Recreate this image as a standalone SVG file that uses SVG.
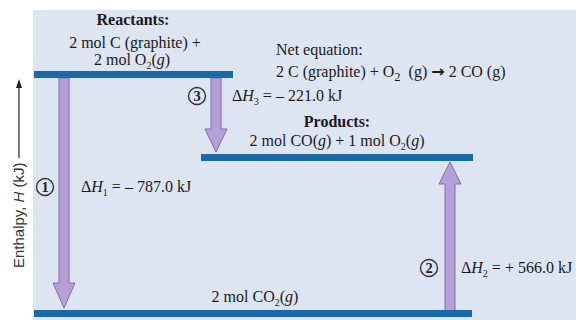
<svg xmlns="http://www.w3.org/2000/svg" width="576" height="320" viewBox="0 0 576 320">
<style>
.t{font-family:"Liberation Serif","Times New Roman",serif;font-size:16px;fill:#1a1a1a}
.b{font-weight:bold}
.lvl{fill:#1b6aa8}
.arr{fill:#b6a0d8;stroke:#8468b4;stroke-width:1}
.circ{fill:none;stroke:#333;stroke-width:1.4}
.num{font-family:"Liberation Serif",serif;font-size:14.5px;font-weight:bold;fill:#222;text-anchor:middle}
.ax{font-family:"Liberation Sans",Arial,sans-serif;font-size:15px;fill:#333}
</style>
<rect x="0" y="0" width="576" height="320" fill="#ffffff"/>
<rect x="33" y="10" width="543" height="310" fill="#dde5f3"/>

<g id="axis">
<line x1="19" y1="158" x2="19" y2="86" stroke="#222" stroke-width="1.2"/>
<path d="M16,88 L19,79 L22,88 Z" fill="#222"/>
<text class="ax" transform="translate(24,268) rotate(-90)">Enthalpy, <tspan font-style="italic">H</tspan> (kJ)</text>
</g>

<g id="connectors">
<path class="arr" d="M59,78 L69,78 L69,283 L75,283 L64,308 L53,283 L59,283 Z"/>
<path class="arr" d="M211,78 L221,78 L221,129 L227,129 L216,152 L205,129 L211,129 Z"/>
<path class="arr" d="M445,311 L455,311 L455,184 L461,184 L450,162 L439,184 L445,184 Z"/>
</g>

<g id="reactants">
<rect class="lvl" x="34" y="71" width="199" height="7"/>
<text class="t b" x="133" y="25" text-anchor="middle">Reactants:</text>
<text class="t" x="135" y="48" text-anchor="middle">2 mol C (graphite) +</text>
<text class="t" x="132" y="65" text-anchor="middle">2 mol O<tspan font-size="10" dy="4">2</tspan><tspan dy="-4">(</tspan><tspan font-style="italic">g</tspan>)</text>
</g>

<g id="net-equation">
<text class="t" x="276" y="55" font-size="19">Net equation:</text>
<text class="t" x="276" y="77" font-size="19">2 C (graphite) + O<tspan font-size="12.5" dy="4">2</tspan><tspan dy="-4" xml:space="preserve">  (g) </tspan><tspan font-family="DejaVu Sans" font-size="16" font-weight="bold">→</tspan><tspan> 2 CO (g)</tspan></text>
</g>

<g id="products">
<rect class="lvl" x="201" y="154" width="272" height="7"/>
<text class="t b" x="337" y="127" text-anchor="middle">Products:</text>
<text class="t" x="337" y="146" text-anchor="middle">2 mol CO(<tspan font-style="italic">g</tspan>) + 1 mol O<tspan font-size="10" dy="4">2</tspan><tspan dy="-4">(</tspan><tspan font-style="italic">g</tspan>)</text>
</g>

<g id="co2">
<rect class="lvl" x="34" y="310" width="438" height="7"/>
<text class="t" x="255" y="302" text-anchor="middle">2 mol CO<tspan font-size="10" dy="4">2</tspan><tspan dy="-4">(</tspan><tspan font-style="italic">g</tspan>)</text>
</g>

<g id="step1">
<circle class="circ" cx="45" cy="187" r="8.5"/>
<text class="num" x="45" y="192">1</text>
<text class="t" x="81" y="192">Δ<tspan font-style="italic">H</tspan><tspan font-size="10" dy="4">1</tspan><tspan dy="-4"> = – 787.0 kJ</tspan></text>
</g>

<g id="step3">
<circle class="circ" cx="197" cy="96" r="8.5"/>
<text class="num" x="197" y="101">3</text>
<text class="t" x="232" y="101">Δ<tspan font-style="italic">H</tspan><tspan font-size="10" dy="4">3</tspan><tspan dy="-4"> = – 221.0 kJ</tspan></text>
</g>

<g id="step2">
<circle class="circ" cx="429" cy="268" r="8.5"/>
<text class="num" x="429" y="273">2</text>
<text class="t" x="461" y="273">Δ<tspan font-style="italic">H</tspan><tspan font-size="10" dy="4">2</tspan><tspan dy="-4"> = + 566.0 kJ</tspan></text>
</g>
</svg>
